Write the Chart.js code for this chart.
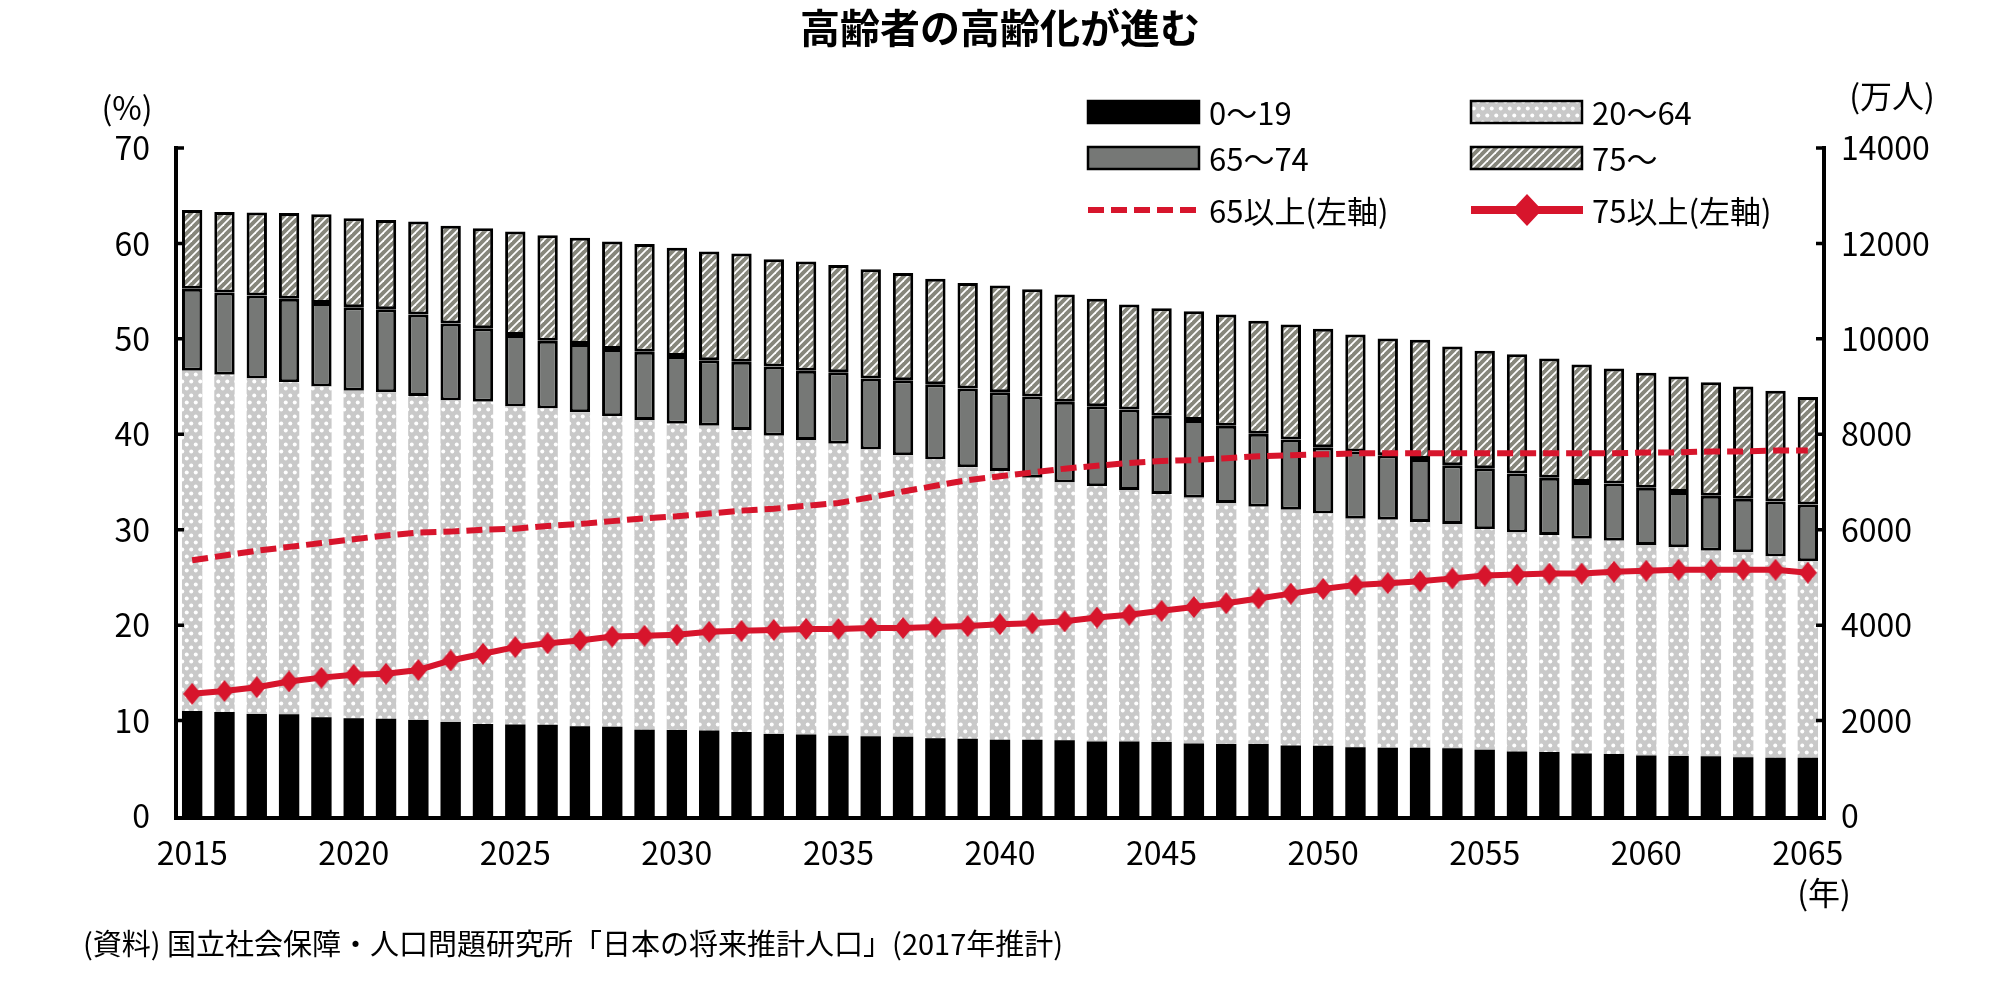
<!DOCTYPE html>
<html lang="ja">
<head>
<meta charset="utf-8">
<title>高齢者の高齢化が進む</title>
<script src="https://cdn.jsdelivr.net/npm/chart.js@4.4.1/dist/chart.umd.min.js"></script>
<style>
  html, body { margin: 0; padding: 0; background: #fff; }
  #wrap { width: 2000px; height: 1000px; }
</style>
</head>
<body>
<div id="wrap"><canvas id="chart" width="2000" height="1000"></canvas></div>
<script>
// --- data (万人 / %) ---
const years = [
  2015, 2016, 2017, 2018, 2019, 2020, 2021, 2022, 2023, 2024,
  2025, 2026, 2027, 2028, 2029, 2030, 2031, 2032, 2033, 2034,
  2035, 2036, 2037, 2038, 2039, 2040, 2041, 2042, 2043, 2044,
  2045, 2046, 2047, 2048, 2049, 2050, 2051, 2052, 2053, 2054,
  2055, 2056, 2057, 2058, 2059, 2060, 2061, 2062, 2063, 2064,
  2065
];
const age0to19 = [
  2200, 2180, 2140, 2130, 2070, 2050, 2040, 2010, 1970, 1930,
  1920, 1910, 1880, 1870, 1810, 1800, 1790, 1760, 1720, 1710,
  1680, 1670, 1660, 1630, 1620, 1600, 1600, 1590, 1560, 1560,
  1550, 1520, 1510, 1510, 1480, 1470, 1440, 1430, 1430, 1420,
  1390, 1350, 1340, 1310, 1300, 1270, 1260, 1250, 1230, 1220,
  1220
];
const age20to64 = [
  7130, 7070, 7030, 6960, 6930, 6860, 6840, 6790, 6740, 6750,
  6660, 6630, 6580, 6510, 6490, 6420, 6390, 6330, 6250, 6170,
  6120, 6010, 5900, 5840, 5690, 5630, 5490, 5400, 5350, 5270,
  5200, 5150, 5050, 4970, 4940, 4870, 4790, 4780, 4730, 4700,
  4620, 4590, 4550, 4500, 4470, 4410, 4370, 4310, 4300, 4220,
  4120
];
const age65to74 = [
  1720, 1720, 1740, 1750, 1750, 1750, 1740, 1710, 1610, 1540,
  1500, 1420, 1430, 1410, 1430, 1420, 1370, 1430, 1450, 1450,
  1500, 1490, 1570, 1580, 1650, 1650, 1700, 1690, 1680, 1690,
  1640, 1630, 1620, 1530, 1470, 1390, 1410, 1350, 1320, 1230,
  1280, 1240, 1200, 1190, 1200, 1200, 1160, 1150, 1120, 1150,
  1190
];
const age75plus = [
  1650, 1690, 1740, 1800, 1860, 1870, 1870, 1950, 2050, 2100,
  2170, 2210, 2230, 2250, 2260, 2270, 2280, 2270, 2250, 2290,
  2250, 2290, 2250, 2210, 2210, 2240, 2250, 2250, 2250, 2200,
  2250, 2280, 2330, 2370, 2410, 2480, 2450, 2450, 2500, 2490,
  2460, 2500, 2500, 2460, 2410, 2410, 2420, 2380, 2350, 2320,
  2250
];
const share65plus = [
  26.8, 27.3, 27.8, 28.2, 28.6, 29.0, 29.4, 29.7, 29.8, 30.0,
  30.1, 30.4, 30.6, 30.9, 31.2, 31.4, 31.7, 32.0, 32.2, 32.5,
  32.8, 33.4, 34.0, 34.6, 35.2, 35.6, 36.0, 36.4, 36.7, 37.0,
  37.2, 37.3, 37.5, 37.7, 37.8, 37.9, 38.0, 38.0, 38.0, 38.0,
  38.0, 38.0, 38.0, 38.0, 38.0, 38.1, 38.1, 38.2, 38.2, 38.3,
  38.3
];
const share75plus = [
  12.8, 13.1, 13.5, 14.1, 14.5, 14.8, 14.9, 15.3, 16.3, 17.0,
  17.7, 18.1, 18.4, 18.8, 18.9, 19.0, 19.3, 19.4, 19.5, 19.6,
  19.6, 19.7, 19.7, 19.8, 19.9, 20.1, 20.2, 20.4, 20.8, 21.1,
  21.5, 21.9, 22.3, 22.8, 23.3, 23.8, 24.2, 24.4, 24.6, 24.9,
  25.2, 25.3, 25.4, 25.4, 25.6, 25.7, 25.8, 25.8, 25.8, 25.8,
  25.5
];
const seriesLabels = ['0〜19', '20〜64', '65〜74', '75〜', '65以上(左軸)', '75以上(左軸)'];

const FONT = "'Noto Sans CJK JP', 'Noto Sans', sans-serif";
const RED = '#d7152c';

function makePattern(w, h, paint) {
  const c = document.createElement('canvas');
  c.width = w; c.height = h;
  paint(c.getContext('2d'));
  return c.getContext('2d').createPattern(c, 'repeat');
}

// light gray with white dots
const dotFill = makePattern(9, 14, (g) => {
  g.fillStyle = '#c9c9c9';
  g.fillRect(0, 0, 9, 14);
  g.fillStyle = '#fff';
  [[2.25, 3.5], [6.75, 10.5]].forEach(([x, y]) => {
    g.beginPath(); g.arc(x, y, 2, 0, Math.PI * 2); g.fill();
  });
});

// gray with white diagonal stripes
const hatchFill = makePattern(8, 8, (g) => {
  g.fillStyle = '#86867b';
  g.fillRect(0, 0, 8, 8);
  g.strokeStyle = '#fff';
  g.lineWidth = 1.8;
  [[-1, 1, 1, -1], [0, 8, 8, 0], [7, 9, 9, 7]].forEach(([a, b, c, d]) => {
    g.beginPath(); g.moveTo(a, b); g.lineTo(c, d); g.stroke();
  });
});

function makeDiamond(w, h) {
  const c = document.createElement('canvas');
  c.width = w; c.height = h;
  const g = c.getContext('2d');
  g.fillStyle = RED;
  g.beginPath();
  g.moveTo(w / 2, 0); g.lineTo(w, h / 2); g.lineTo(w / 2, h); g.lineTo(0, h / 2);
  g.closePath(); g.fill();
  return c;
}
const diamond = makeDiamond(18, 22);

// legend, axis lines, inward ticks and the extra texts
const extrasPlugin = {
  id: 'extras',
  afterDraw(chart) {
    const ctx = chart.ctx;
    const { left, right, top, bottom } = chart.chartArea;
    const yL = chart.scales.yPct;
    const yR = chart.scales.yPop;
    const byLabel = (l) => chart.data.datasets.find(d => d.label === l);
    ctx.save();

    // axes
    ctx.strokeStyle = '#000';
    ctx.lineWidth = 4;
    ctx.beginPath();
    ctx.moveTo(left, top - 2); ctx.lineTo(left, bottom + 4);
    ctx.moveTo(right, top - 2); ctx.lineTo(right, bottom + 4);
    ctx.moveTo(left - 2, bottom + 2); ctx.lineTo(right + 2, bottom + 2);
    ctx.stroke();
    ctx.lineWidth = 3.5;
    ctx.beginPath();
    yL.ticks.forEach(t => {
      const y = yL.getPixelForValue(t.value);
      if (t.value > 0) { ctx.moveTo(left, y); ctx.lineTo(left + 8, y); }
    });
    yR.ticks.forEach(t => {
      const y = yR.getPixelForValue(t.value);
      if (t.value > 0) { ctx.moveTo(right, y); ctx.lineTo(right - 8, y); }
    });
    ctx.stroke();

    // legend, two columns
    const items = [
      { l: seriesLabels[0], x: 1088, y: 112 }, { l: seriesLabels[1], x: 1471, y: 112 },
      { l: seriesLabels[2], x: 1088, y: 158 }, { l: seriesLabels[3], x: 1471, y: 158 },
      { l: seriesLabels[4], x: 1088, y: 210 }, { l: seriesLabels[5], x: 1471, y: 210 }
    ];
    items.forEach(({ l, x, y }) => {
      const d = byLabel(l);
      if (d.type === 'line') {
        ctx.strokeStyle = d.borderColor;
        if (d.borderDash) {
          ctx.lineWidth = 6;
          ctx.setLineDash([16, 7]);
        } else {
          ctx.lineWidth = 8;
          ctx.setLineDash([]);
        }
        ctx.beginPath(); ctx.moveTo(x, y); ctx.lineTo(x + 112, y); ctx.stroke();
        ctx.setLineDash([]);
        if (!d.borderDash) {
          ctx.fillStyle = d.borderColor;
          ctx.beginPath();
          ctx.moveTo(x + 56, y - 16); ctx.lineTo(x + 71, y);
          ctx.lineTo(x + 56, y + 16); ctx.lineTo(x + 41, y);
          ctx.closePath(); ctx.fill();
        }
      } else {
        ctx.fillStyle = d.backgroundColor;
        ctx.fillRect(x, y - 11, 111, 22);
        ctx.strokeStyle = '#000';
        ctx.lineWidth = 2.5;
        ctx.strokeRect(x, y - 11, 111, 22);
      }
      ctx.fillStyle = '#000';
      ctx.font = `31px ${FONT}`;
      ctx.textAlign = 'left';
      ctx.textBaseline = 'middle';
      ctx.fillText(d.label, x + 121, y + 1);
    });

    // title, units, source
    ctx.fillStyle = '#000';
    ctx.textAlign = 'center';
    ctx.textBaseline = 'middle';
    ctx.font = `bold 40px ${FONT}`;
    ctx.fillText('高齢者の高齢化が進む', 1000, 28);
    ctx.font = `32px ${FONT}`;
    ctx.fillText('(%)', 127, 108);
    ctx.fillText('(万人)', 1892, 96);
    ctx.fillText('(年)', 1824, 893);
    ctx.textAlign = 'left';
    ctx.font = `29px ${FONT}`;
    ctx.fillText('(資料) 国立社会保障・人口問題研究所「日本の将来推計人口」(2017年推計)', 83, 944);
    ctx.restore();
  }
};

const tickFont = { family: FONT, size: 32 };

function draw() {
  new Chart(document.getElementById('chart'), {
    data: {
      labels: years,
      datasets: [
        { type: 'line', label: seriesLabels[5], data: share75plus, yAxisID: 'yPct', order: 0,
          borderColor: RED, backgroundColor: RED, borderWidth: 6, tension: 0,
          pointStyle: diamond, pointRadius: 9, fill: false },
        { type: 'line', label: seriesLabels[4], data: share65plus, yAxisID: 'yPct', order: 1,
          borderColor: RED, borderWidth: 6, borderDash: [16, 7], pointRadius: 0, tension: 0, fill: false },
        { type: 'bar', label: seriesLabels[0], data: age0to19, yAxisID: 'yPop', order: 2,
          backgroundColor: '#000', borderWidth: 0 },
        { type: 'bar', label: seriesLabels[1], data: age20to64, yAxisID: 'yPop', order: 2,
          backgroundColor: dotFill, borderWidth: 0 },
        { type: 'bar', label: seriesLabels[2], data: age65to74, yAxisID: 'yPop', order: 2,
          backgroundColor: '#767876', borderColor: '#000', borderWidth: 3, borderSkipped: false },
        { type: 'bar', label: seriesLabels[3], data: age75plus, yAxisID: 'yPop', order: 2,
          backgroundColor: hatchFill, borderColor: '#000', borderWidth: 3, borderSkipped: false }
      ]
    },
    options: {
      responsive: false,
      animation: false,
      events: [],
      datasets: { bar: { barPercentage: 0.63, categoryPercentage: 1.0, stack: 'pop' } },
      layout: { padding: { top: 148, left: 0, right: 0, bottom: 0 } },
      plugins: { legend: { display: false }, tooltip: { enabled: false } },
      scales: {
        x: {
          stacked: true,
          grid: { display: false, drawTicks: false },
          border: { display: false },
          ticks: {
            autoSkip: false, maxRotation: 0, minRotation: 0, padding: 18,
            color: '#000', font: tickFont,
            callback: (v, i) => (years[i] % 5 === 0 ? String(years[i]) : '')
          },
          afterFit: (s) => { s.height = 184; }
        },
        yPct: {
          position: 'left', min: 0, max: 70,
          grid: { display: false, drawTicks: false },
          border: { display: false },
          ticks: { stepSize: 10, padding: 26, color: '#000', font: tickFont, callback: (v) => String(v) },
          afterFit: (s) => { s.width = 176; }
        },
        yPop: {
          position: 'right', stacked: true, min: 0, max: 14000,
          grid: { display: false, drawTicks: false },
          border: { display: false },
          ticks: { stepSize: 2000, padding: 17, color: '#000', font: tickFont, callback: (v) => String(v) },
          afterFit: (s) => { s.width = 176; }
        }
      }
    },
    plugins: [extrasPlugin]
  });
}

// make sure the CJK face is ready before the canvas text is drawn
if (document.fonts && document.fonts.load) {
  Promise.all([
    document.fonts.load(`32px ${FONT}`, '高齢者0〜'),
    document.fonts.load(`bold 40px ${FONT}`, '高齢者')
  ]).then(draw, draw);
} else {
  draw();
}
</script>
</body>
</html>
